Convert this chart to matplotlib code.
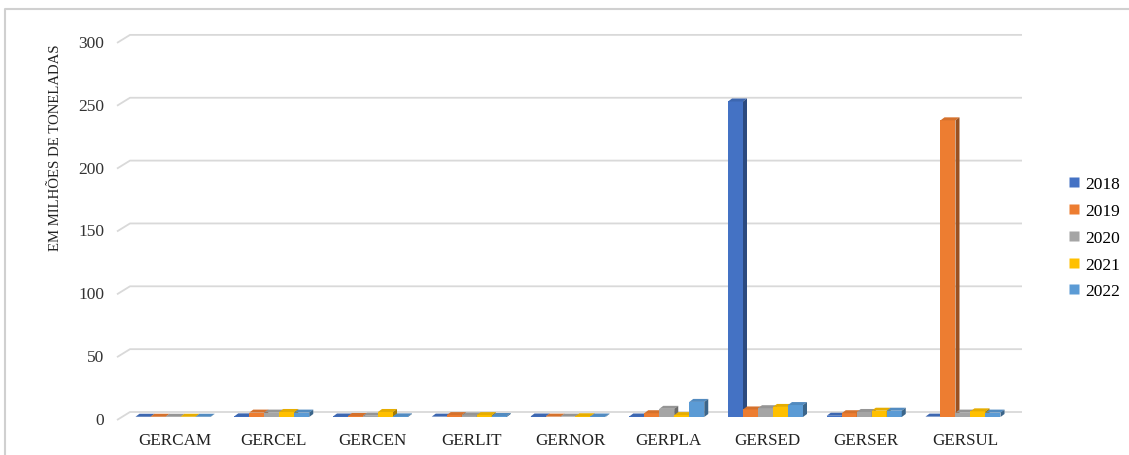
import matplotlib
matplotlib.use("Agg")
import matplotlib.pyplot as plt
from matplotlib.patches import Polygon, Rectangle
from matplotlib.lines import Line2D
import matplotlib.colors as mcolors

# ---- data ----
categories = ["GERCAM", "GERCEL", "GERCEN", "GERLIT", "GERNOR",
              "GERPLA", "GERSED", "GERSER", "GERSUL"]
years = ["2018", "2019", "2020", "2021", "2022"]
v2018 = [0.2, 0.5, 0.4, 0.3, 0.4, 0.4, 251.0, 1.0, 0.3]
v2019 = [0.2, 3.5, 0.8, 1.5, 0.3, 3.0, 6.0, 3.0, 236.0]
v2020 = [0.2, 3.5, 1.0, 1.2, 0.3, 6.5, 7.0, 4.0, 3.5]
v2021 = [0.2, 4.0, 4.0, 1.5, 0.6, 1.5, 8.0, 5.0, 4.5]
v2022 = [0.2, 3.5, 0.5, 0.8, 0.4, 12.0, 9.5, 5.0, 3.5]
series = [v2018, v2019, v2020, v2021, v2022]
yticks = [0, 50, 100, 150, 200, 250, 300]
ylabel = "EM MILHÕES DE TONELADAS"

colors = ["#4472C4", "#ED7D31", "#A5A5A5", "#FFC000", "#5B9BD5"]

# ---- geometry (pixel based scales) ----
W, H, DPI = 1129, 456, 100
PX_X = 98.75      # pixels per category
PX_Y = 1.257      # pixels per unit of value
X0_PX = 173.0     # pixel x of first category centre
Y0_PX = 421.0     # pixel y of the front floor edge (value 0)

def dx(px):
    return px / PX_X

def dy(px):
    return px / PX_Y

fig = plt.figure(figsize=(W / DPI, H / DPI), dpi=DPI)
ax = fig.add_axes([0, 0, 1, 1])
ax.set_xlim(-X0_PX / PX_X, (W - X0_PX) / PX_X)
ax.set_ylim(-(H - Y0_PX) / PX_Y, Y0_PX / PX_Y)
ax.axis("off")

serif = ["Liberation Serif", "DejaVu Serif"]
grid_c = "#D9D9D9"

# back wall offset and bar placement in depth
wall_dx, wall_dy = dx(13), dy(8)
left_x = dx(117 - X0_PX)
right_x = dx(1022 - X0_PX)
bar_base = dy(3)
bar_ddx, bar_ddy = dx(4), dy(3)
bar_w = dx(15)

# gridlines on the back wall with slanted ticks to the side
for t in yticks:
    ax.plot([left_x, left_x + wall_dx, right_x],
            [t, t + wall_dy, t + wall_dy],
            color=grid_c, lw=1.3, solid_capstyle="butt", zorder=1)
    ax.text(dx(104 - X0_PX), t, f"{t}", ha="right", va="center",
            fontsize=12.5, family=serif, color="#333333")

def shade(c, f):
    r, g, b = mcolors.to_rgb(c)
    return (r * f, g * f, b * f)

# 3-D style columns
for i in range(len(categories)):
    for j, vals in enumerate(series):
        v = vals[i]
        x0 = i - 2.5 * bar_w + j * bar_w
        x1 = x0 + bar_w
        y0 = bar_base
        y1 = bar_base + v
        c = colors[j]
        z = 2 + i * 0.01 + j * 0.001
        ax.add_patch(Rectangle((x0, y0), bar_w, v, facecolor=c,
                               edgecolor="none", zorder=z))
        ax.add_patch(Polygon([(x0, y1), (x1, y1), (x1 + bar_ddx, y1 + bar_ddy),
                              (x0 + bar_ddx, y1 + bar_ddy)], closed=True,
                             facecolor=shade(c, 0.9), edgecolor="none", zorder=z))
        ax.add_patch(Polygon([(x1, y0), (x1 + bar_ddx, y0 + bar_ddy),
                              (x1 + bar_ddx, y1 + bar_ddy), (x1, y1)], closed=True,
                             facecolor=shade(c, 0.65), edgecolor="none", zorder=z))
    ax.text(i + dx(2), dy(-20), categories[i], ha="center", va="center",
            fontsize=12.3, family=serif, color="#222222")

# axis title
fig.text(56 / W, 1 - 148 / H, ylabel, rotation=90, ha="center", va="center",
         fontsize=10.6, family=serif, color="#222222")

# legend
handles = [Line2D([], [], marker="s", linestyle="none", markersize=7,
                  markerfacecolor=c, markeredgecolor="none") for c in colors]
fig.legend(handles, years, loc="upper left",
           bbox_to_anchor=(1058 / W, 1 - 168 / H), frameon=False,
           prop={"family": serif, "size": 12.5}, labelspacing=0.62,
           handletextpad=0.15, handlelength=0.9, borderpad=0)

# outer border of the chart area
fig.add_artist(Line2D([5 / W, 5 / W, 1.0], [0, 1 - 10 / H, 1 - 10 / H],
                      transform=fig.transFigure, color="#D0D0D0", lw=1.5))

fig.savefig("out.png", dpi=DPI)
